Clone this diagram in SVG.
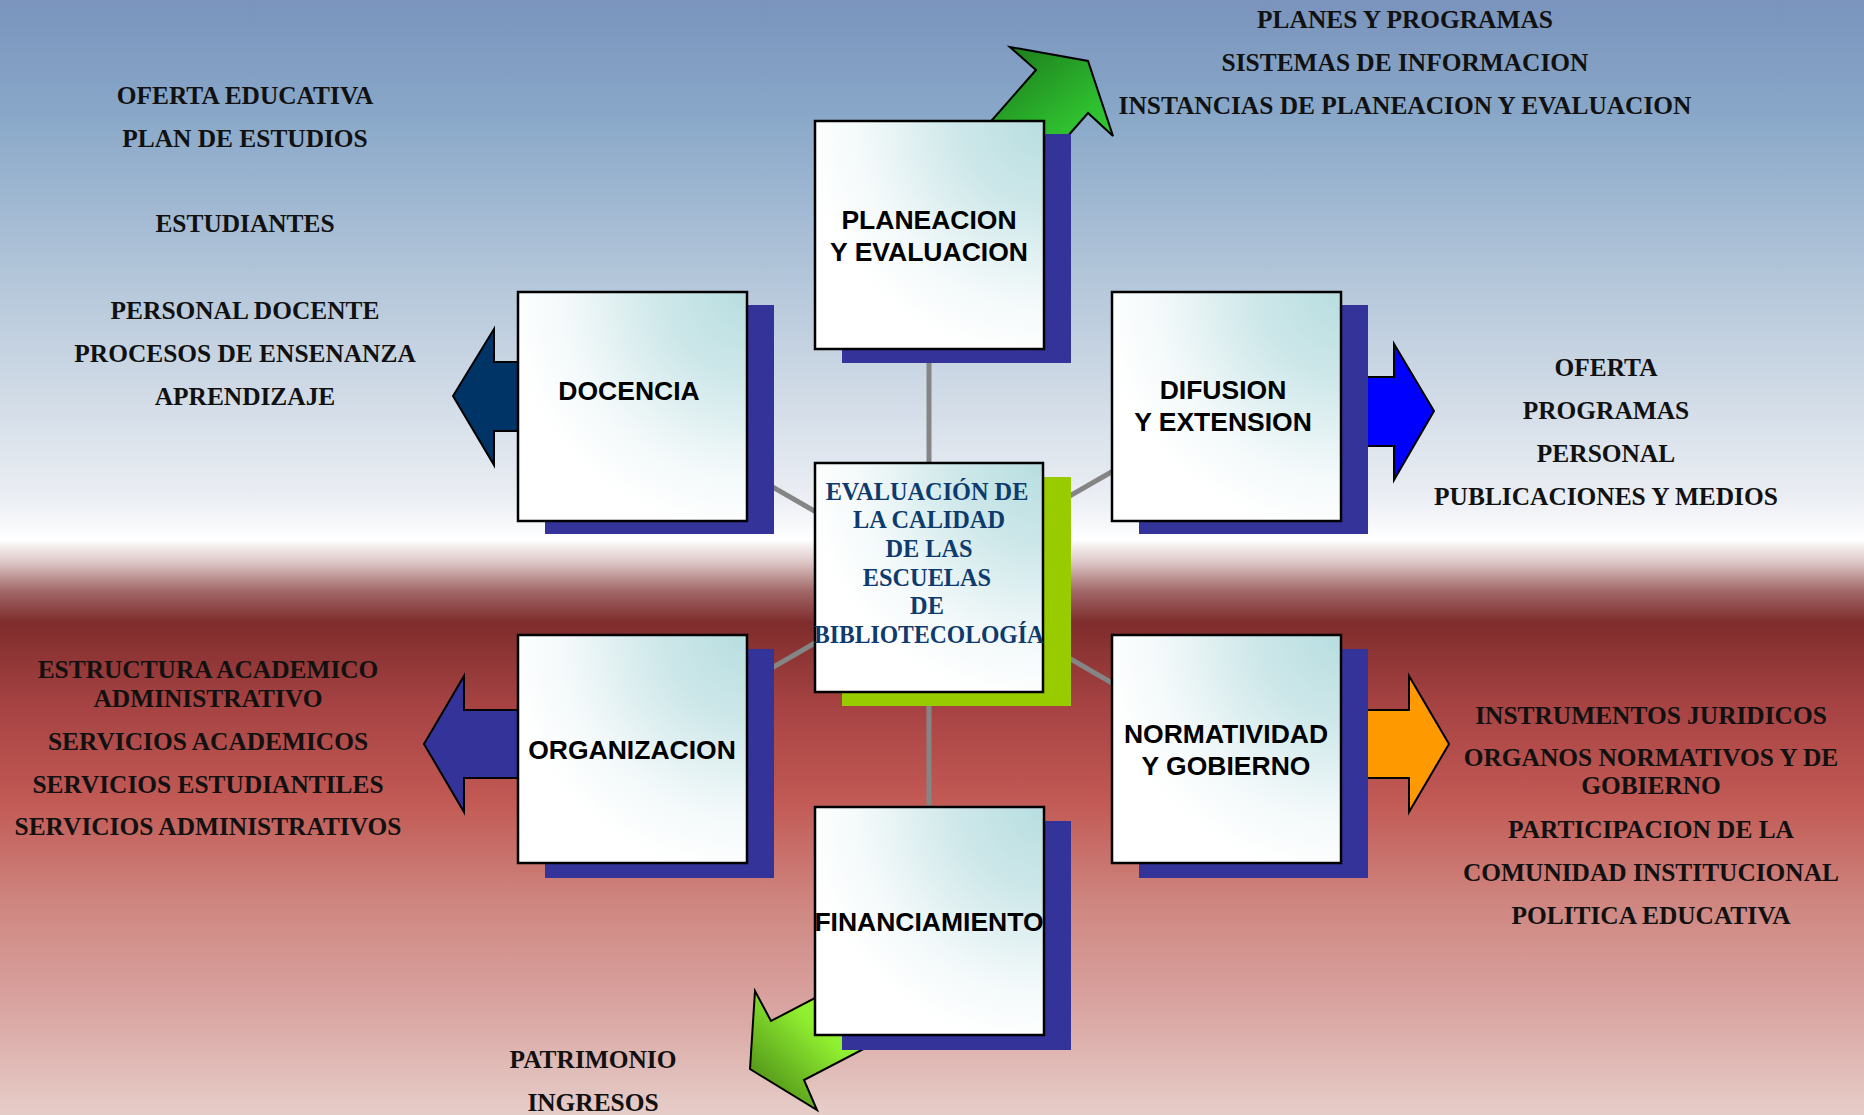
<svg xmlns="http://www.w3.org/2000/svg" width="1864" height="1115" viewBox="0 0 1864 1115">
<defs>
<linearGradient id="bg" x1="0" y1="0" x2="0" y2="1">
<stop offset="0" stop-color="#7a94bd"/>
<stop offset="0.1" stop-color="#88a7c8"/>
<stop offset="0.27" stop-color="#b9cadc"/>
<stop offset="0.36" stop-color="#d2dce7"/>
<stop offset="0.45" stop-color="#eceff4"/>
<stop offset="0.484" stop-color="#ffffff"/>
<stop offset="0.505" stop-color="#dcc4c4"/>
<stop offset="0.53" stop-color="#a26868"/>
<stop offset="0.558" stop-color="#7f2c2c"/>
<stop offset="0.63" stop-color="#a54242"/>
<stop offset="0.72" stop-color="#c25a55"/>
<stop offset="0.81" stop-color="#cf8680"/>
<stop offset="0.9" stop-color="#d9a3a0"/>
<stop offset="1" stop-color="#e6cdc8"/>
</linearGradient>
<radialGradient id="boxg" cx="1" cy="0" r="1.05">
<stop offset="0" stop-color="#b8dee0"/>
<stop offset="0.35" stop-color="#cde7e9"/>
<stop offset="0.75" stop-color="#f3f9fa"/>
<stop offset="1" stop-color="#ffffff"/>
</radialGradient>
<linearGradient id="gup" x1="0" y1="0" x2="1" y2="1">
<stop offset="0" stop-color="#176817"/>
<stop offset="0.7" stop-color="#2fbf2f"/>
<stop offset="1" stop-color="#33cc33"/>
</linearGradient>
<linearGradient id="gdown" x1="1" y1="0" x2="0" y2="1">
<stop offset="0" stop-color="#a6ff44"/>
<stop offset="0.5" stop-color="#90ee30"/>
<stop offset="1" stop-color="#3f7a12"/>
</linearGradient>
<style>
.box{fill:url(#boxg);stroke:#000;stroke-width:2.5}
.sh{fill:#333399}
.lbl{font-family:"Liberation Sans",Arial,sans-serif;font-weight:bold;font-size:26.5px;fill:#000;text-anchor:middle}
.side{font-family:"Liberation Serif","Times New Roman",serif;font-weight:bold;font-size:25.4px;fill:#111;text-anchor:middle}
.ctr{font-family:"Liberation Serif","Times New Roman",serif;font-weight:bold;font-size:24.3px;fill:#0e3b6e;text-anchor:middle}
.arr{stroke:#000;stroke-width:2;stroke-linejoin:miter}
.con{stroke:#858585;stroke-width:5;fill:none}
</style>
</defs>
<rect x="0" y="0" width="1864" height="1115" fill="url(#bg)"/>
<g id="connectors">
<line class="con" x1="929" y1="577" x2="929" y2="235"/>
<line class="con" x1="929" y1="577" x2="929" y2="921"/>
<line class="con" x1="929" y1="577" x2="632" y2="406"/>
<line class="con" x1="929" y1="577" x2="1226" y2="406"/>
<line class="con" x1="929" y1="577" x2="632" y2="749"/>
<line class="con" x1="929" y1="577" x2="1226" y2="749"/>
</g>
<g id="planeacion">
<polygon class="arr" fill="url(#gup)" points="957,160 1036,70 1010,47 1088,61 1113,136 1088,113 1047,160"/>
<rect class="sh" x="842" y="134" width="229" height="229"/>
<rect class="box" x="815" y="121" width="229" height="228"/>
<text class="lbl" x="929" y="229">PLANEACION</text>
<text class="lbl" x="929" y="261">Y EVALUACION</text>
<text class="side" x="1405" y="28">PLANES Y PROGRAMAS</text>
<text class="side" x="1405" y="71">SISTEMAS DE INFORMACION</text>
<text class="side" x="1405" y="114">INSTANCIAS DE PLANEACION Y EVALUACION</text>
</g>
<g id="docencia">
<polygon class="arr" fill="#003366" points="453,396 494,329 494,362 530,362 530,431 494,431 494,465"/>
<rect class="sh" x="545" y="305" width="229" height="229"/>
<rect class="box" x="518" y="292" width="229" height="229"/>
<text class="lbl" x="629" y="400">DOCENCIA</text>
<text class="side" x="245" y="104">OFERTA EDUCATIVA</text>
<text class="side" x="245" y="147">PLAN DE ESTUDIOS</text>
<text class="side" x="245" y="232">ESTUDIANTES</text>
<text class="side" x="245" y="319">PERSONAL DOCENTE</text>
<text class="side" x="245" y="362">PROCESOS DE ENSENANZA</text>
<text class="side" x="245" y="405">APRENDIZAJE</text>
</g>
<g id="difusion">
<polygon class="arr" fill="#0000ff" points="1350,377 1394,377 1394,344 1434,411 1394,480 1394,446 1350,446"/>
<rect class="sh" x="1139" y="305" width="229" height="229"/>
<rect class="box" x="1112" y="292" width="229" height="229"/>
<text class="lbl" x="1223" y="399">DIFUSION</text>
<text class="lbl" x="1223" y="431">Y EXTENSION</text>
<text class="side" x="1606" y="376">OFERTA</text>
<text class="side" x="1606" y="419">PROGRAMAS</text>
<text class="side" x="1606" y="462">PERSONAL</text>
<text class="side" x="1606" y="505">PUBLICACIONES Y MEDIOS</text>
</g>
<g id="organizacion">
<polygon class="arr" fill="#333399" points="424,744 464,676 464,710 530,710 530,778 464,778 464,812"/>
<rect class="sh" x="545" y="649" width="229" height="229"/>
<rect class="box" x="518" y="635" width="229" height="228"/>
<text class="lbl" x="632" y="759">ORGANIZACION</text>
<text class="side" x="208" y="678">ESTRUCTURA ACADEMICO</text>
<text class="side" x="208" y="707">ADMINISTRATIVO</text>
<text class="side" x="208" y="750">SERVICIOS ACADEMICOS</text>
<text class="side" x="208" y="793">SERVICIOS ESTUDIANTILES</text>
<text class="side" x="208" y="835">SERVICIOS ADMINISTRATIVOS</text>
</g>
<g id="normatividad">
<polygon class="arr" fill="#ff9900" points="1350,710 1409,710 1409,676 1449,744 1409,812 1409,778 1350,778"/>
<rect class="sh" x="1139" y="649" width="229" height="229"/>
<rect class="box" x="1112" y="635" width="229" height="228"/>
<text class="lbl" x="1226" y="743">NORMATIVIDAD</text>
<text class="lbl" x="1226" y="775">Y GOBIERNO</text>
<text class="side" x="1651" y="724">INSTRUMENTOS JURIDICOS</text>
<text class="side" x="1651" y="766">ORGANOS NORMATIVOS Y DE</text>
<text class="side" x="1651" y="794">GOBIERNO</text>
<text class="side" x="1651" y="838">PARTICIPACION DE LA</text>
<text class="side" x="1651" y="881">COMUNIDAD INSTITUCIONAL</text>
<text class="side" x="1651" y="924">POLITICA EDUCATIVA</text>
</g>
<g id="financiamiento">
<polygon class="arr" fill="url(#gdown)" points="755,991 771,1021 880,964 900,1030 804,1080 817,1110 750,1069"/>
<rect class="sh" x="842" y="821" width="229" height="229"/>
<rect class="box" x="815" y="807" width="229" height="228"/>
<text class="lbl" x="929" y="931">FINANCIAMIENTO</text>
<text class="side" x="593" y="1068">PATRIMONIO</text>
<text class="side" x="593" y="1111">INGRESOS</text>
</g>
<g id="centro">
<rect x="842" y="477" width="229" height="229" fill="#99cc00"/>
<rect class="box" x="815" y="463" width="228" height="229"/>
<text class="ctr" x="927" y="500">EVALUACIÓN DE</text>
<text class="ctr" x="929" y="528">LA CALIDAD</text>
<text class="ctr" x="929" y="557">DE LAS</text>
<text class="ctr" x="927" y="586">ESCUELAS</text>
<text class="ctr" x="927" y="614">DE</text>
<text class="ctr" x="929" y="643" textLength="230" lengthAdjust="spacingAndGlyphs">BIBLIOTECOLOGÍA</text>
</g>
</svg>
